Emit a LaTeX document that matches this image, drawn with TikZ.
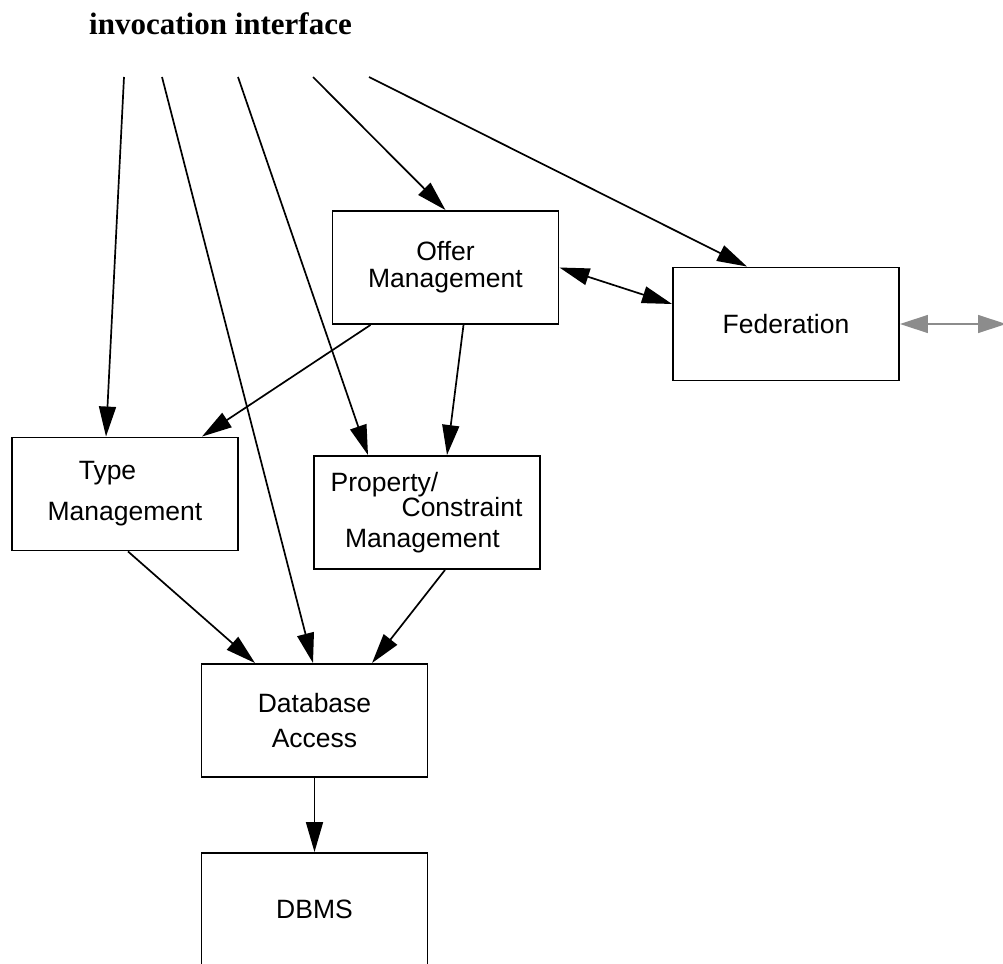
\documentclass[tikz,border=0pt]{standalone}
\usepackage{fontspec}
\setmainfont{Liberation Sans}
\newfontfamily\titlefont{Liberation Serif}
\usetikzlibrary{arrows.meta,positioning,calc}

\begin{document}
\begin{tikzpicture}[x=1pt, y=-1pt, >={Triangle[length=30pt,width=17pt]},
		block/.style={draw, line width=1.9pt, minimum width=226pt, minimum height=113pt, inner sep=0pt, align=center, font=\fontsize{26.5}{27}\selectfont},
		link/.style={->, line width=1.7pt},
		extlink/.style={{Triangle[length=28pt,width=18pt]}-{Triangle[length=28pt,width=18pt]}, line width=1.3pt, draw=black!45}]
		\useasboundingbox (0,0) rectangle (1003,963);
		\clip (0,0) rectangle (1003,963);
		\node[anchor=base, font=\titlefont\bfseries\fontsize{31}{36}\selectfont] (title) at (220.5,35) {invocation interface};
		\coordinate (s1) at (124,77);
		\coordinate (s2) at (162,77);
		\coordinate (s3) at (238,77);
		\coordinate (s4) at (313,77);
		\coordinate (s5) at (369,77);
		\node[block] (offer) at (445.5,267.5) {Offer\\Management};
		\node[block] (fed) at (786,324) {Federation};
		\node[block] (type) at (125,494) {Type\rule{35pt}{0pt}\\[14pt]Management};
		\node[block] (prop) at (427,512.5) {Property/\rule{85pt}{0pt}\\[-2pt]\rule{70pt}{0pt}Constraint\\[4pt]Management\rule{9pt}{0pt}};
		\node[block] (db) at (314.5,720.5) {Database\\[8pt]Access};
		\node[block] (dbms) at (314.5,909.5) {DBMS};
		\coordinate (ext) at (1006,324);
		\draw[link] (s1) -- ([xshift=-19pt]type.north);
		\draw[link] (s2) -- ([xshift=-1.5pt]db.north);
		\draw[link] (s3) -- ([xshift=-59pt]prop.north);
		\draw[link] (s4) -- (offer.north);
		\draw[link] (s5) -- ([xshift=-39pt]fed.north);
		\draw[link] ([xshift=-75pt]offer.south) -- ([xshift=77pt]type.north);
		\draw[link] ([xshift=18pt]offer.south) -- ([xshift=20pt]prop.north);
		\draw[link] ([xshift=3pt]type.south) -- ([xshift=-59.5pt]db.north);
		\draw[link] ([xshift=18pt]prop.south) -- ([xshift=57.5pt]db.north);
		\draw[link] (db.south) -- (dbms.north);
		\draw[link, <->] (offer.east) -- ([yshift=20pt]fed.west);
		\draw[extlink] (fed.east) -- (ext);
	\end{tikzpicture}
\end{document}
